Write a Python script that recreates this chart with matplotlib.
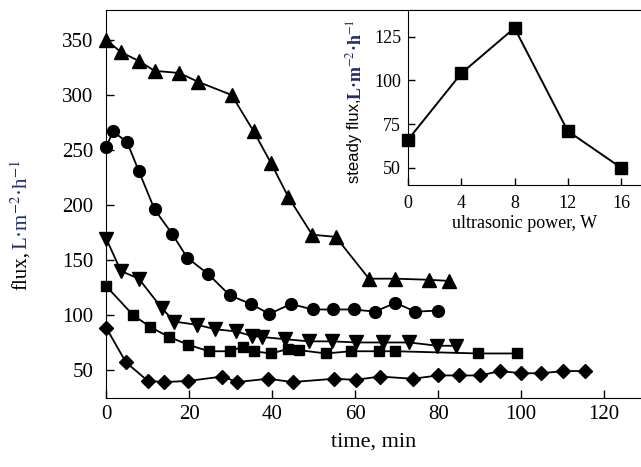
import matplotlib

matplotlib.use("Agg")
import matplotlib.pyplot as plt

plt.rcParams["font.family"] = ["Liberation Serif", "DejaVu Serif"]
plt.rcParams["mathtext.fontset"] = "stix"

# flux decline curves (time in min, flux in L m-2 h-1)
t_tri = [0, 3.5, 7.8, 11.6, 17.6, 22.1, 30.2, 35.5, 39.7, 43.9, 49.6, 55.3, 63.3, 69.7, 77.7, 82.5]
f_tri = [350, 339, 331, 322, 320, 312, 300, 267, 238, 207, 173, 171, 133, 133, 132, 131]

t_circ = [0, 1.6, 5.0, 7.8, 11.6, 15.8, 19.5, 24.6, 29.7, 34.8, 39.3, 44.5, 49.7, 54.7, 59.7, 64.7, 69.7, 74.5, 79.9]
f_circ = [253, 267, 257, 231, 196, 174, 152, 137, 118, 110, 101, 110, 105, 105, 105, 103, 111, 103, 104]

t_vtri = [0, 3.5, 7.8, 13.4, 16.4, 21.9, 26.3, 31.3, 35.0, 37.4, 43.0, 48.9, 54.5, 60.2, 66.6, 73.0, 79.8, 84.2]
f_vtri = [169, 140, 133, 106, 94, 91, 87, 85, 81, 80, 78, 76, 76, 75, 75, 75, 72, 72]

t_sq = [0, 6.4, 10.6, 15.1, 19.7, 24.7, 29.7, 32.9, 35.5, 39.7, 43.7, 46.5, 52.9, 58.9, 65.7, 69.7, 89.7, 98.9]
f_sq = [126, 100, 89, 80, 73, 67, 67, 71, 67, 65, 69, 68, 65, 67, 67, 67, 65, 65]

t_dia = [0, 4.7, 10.0, 13.9, 19.7, 27.9, 31.6, 38.9, 44.9, 54.9, 60.1, 65.9, 73.9, 79.9, 85.1, 90.1, 94.9, 100, 104.9, 110.1, 115.3]
f_dia = [88, 57, 40, 39, 40, 44, 39, 42, 39, 42, 41, 44, 42, 45, 45, 45, 49, 47, 47, 49, 49]

# inset: steady flux vs ultrasonic power
power = [0, 4, 8, 12, 16]
steady = [66, 104, 130, 71, 50]

NAVY = "#202a6e"
W, H = 641, 467

fig = plt.figure(figsize=(W / 100, H / 100), dpi=100)
ax = fig.add_axes([106 / W, 1 - 398 / H, (W - 106) / W, (398 - 10) / H])

line_kw = dict(color="black", lw=1.3, clip_on=False)
ax.plot(t_tri, f_tri, marker="^", ms=10.5, **line_kw)
ax.plot(t_circ, f_circ, marker="o", ms=8.5, **line_kw)
ax.plot(t_vtri, f_vtri, marker="v", ms=10.5, **line_kw)
ax.plot(t_sq, f_sq, marker="s", ms=7.5, **line_kw)
ax.plot(t_dia, f_dia, marker="D", ms=7.5, **line_kw)

ax.set_xlim(-0.1, 128.9)
ax.set_ylim(24.5, 377.3)
ax.set_xticks(range(0, 121, 20))
ax.set_yticks(range(50, 351, 50))
ax.spines["right"].set_visible(False)
ax.tick_params(direction="in", length=6, width=1, labelsize=15)
ax.tick_params(axis="y", pad=9)
ax.tick_params(axis="x", pad=5)
ax.set_xlabel("time, min", fontsize=16, labelpad=6)

fig.text(22 / W, 1 - 290 / H, "flux,", rotation=90, ha="center", va="bottom", fontsize=15)
fig.text(22 / W, 1 - 250 / H, "L·m$^{-2}$·h$^{-1}$", rotation=90, ha="center",
         va="bottom", fontsize=15, color=NAVY)

# inset
ins = fig.add_axes([408 / W, 1 - 185 / H, (W - 408) / W, (185 - 10) / H])
ins.plot(power, steady, marker="s", ms=8.5, color="black", lw=1.4, clip_on=False)
ins.set_xlim(0, 17.5)
ins.set_ylim(40.1, 140.3)
ins.set_xticks(power)
ins.set_yticks([50, 75, 100, 125])
ins.spines["right"].set_visible(False)
ins.tick_params(direction="in", length=5, width=1, labelsize=13)
ins.tick_params(axis="x", pad=7)
ins.tick_params(axis="y", pad=5)
ins.set_xlabel("ultrasonic power, W", fontsize=13, labelpad=2)

fig.text(355 / W, 1 - 183 / H, "steady flux,", rotation=90, ha="center", va="bottom",
         fontsize=12, family=["Liberation Sans", "DejaVu Sans"])
fig.text(355 / W, 1 - 100 / H, "L·m$^{-2}$·h$^{-1}$", rotation=90, ha="center",
         va="bottom", fontsize=13, color=NAVY, fontweight="bold")

fig.savefig("out.png", dpi=100)
